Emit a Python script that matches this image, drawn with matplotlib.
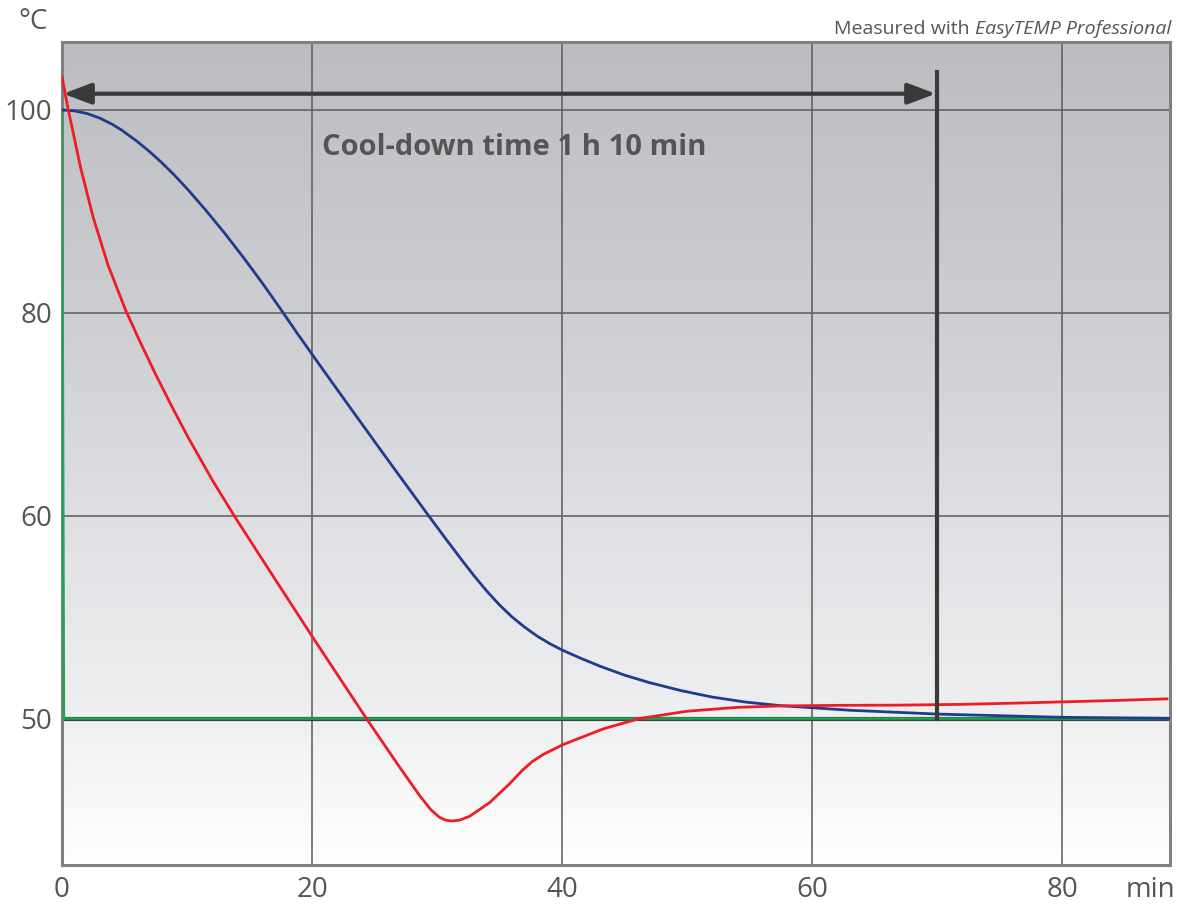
import numpy as np
import matplotlib
matplotlib.use('Agg')
import matplotlib.pyplot as plt
from matplotlib.colors import LinearSegmentedColormap

plt.rcParams['font.family'] = ['Open Sans', 'DejaVu Sans']

# data (minutes, degC)
red_t = [0, 0.5, 1.5, 2.5, 3.7, 5.1, 6.2, 7.44, 8.8, 10.1, 12, 13.8, 17, 20, 24.3, 27,
         28.6, 29.5, 30.2, 30.7, 31.2, 31.8, 32.6, 34.2, 35.8, 36.8, 37.6, 38.5, 40.1,
         43.3, 46.2, 50, 54, 57.4, 62, 67, 72, 76.3, 80, 84.2, 88.4]
red_y = [103.28, 100.03, 94.26, 89.38, 84.65, 80.23, 77.26, 74.06, 70.73, 67.70, 63.56,
         59.97, 56.91, 54.06, 50.05, 47.61, 46.21, 45.51, 45.13, 44.99, 44.95, 44.99,
         45.18, 45.85, 46.78, 47.43, 47.87, 48.23, 48.72, 49.49, 50.0, 50.36, 50.55,
         50.62, 50.65, 50.66, 50.70, 50.76, 50.82, 50.89, 50.97]

blue_t = [0, 1, 2, 3, 4, 4.8, 6, 7, 8, 9, 10.1, 11.5, 13, 14.5, 16, 17.6, 18.8, 20, 21.7,
          23.4, 25, 26.6, 28, 29.4, 30.7, 32, 33, 34, 35, 36, 37, 38, 39, 40, 41.5, 43, 45,
          47, 49.5, 52, 54.7, 57.4, 63, 70, 80, 88.64]
blue_y = [100, 99.91, 99.65, 99.21, 98.60, 97.99, 96.91, 95.90, 94.78, 93.56, 92.11,
          90.12, 87.87, 85.48, 82.98, 80.17, 78.01, 75.92, 72.98, 70.06, 67.32, 64.60,
          62.24, 59.94, 58.86, 57.80, 57.01, 56.27, 55.60, 55.01, 54.51, 54.07, 53.70,
          53.38, 52.97, 52.59, 52.14, 51.77, 51.38, 51.06, 50.81, 50.64, 50.41, 50.22,
          50.06, 50.01]

green_t = [0, 0.15, 88.64]
green_y = [100, 50, 50]

cool_down = 70  # min
xticks = [0, 20, 40, 60, 80]
yticks = [50, 60, 80, 100]


# y axis is stretched 2x below 60 degC
def fwd(y):
    y = np.asarray(y, dtype=float)
    return np.where(y >= 60, y, 60 - (60 - y) * 2)


def inv(t):
    t = np.asarray(t, dtype=float)
    return np.where(t >= 60, t, 60 - (60 - t) / 2)


fig = plt.figure(figsize=(11.77, 9.06), dpi=100)
ax = fig.add_axes([62 / 1177, 41 / 906, 1108 / 1177, 823 / 906])
ax.set_yscale('function', functions=(fwd, inv))
ax.set_xlim(0, 88.64)
ax.set_ylim(42.78, 106.7)

# gray-to-white background
bg = LinearSegmentedColormap.from_list('bg', [(0, '#ffffff'), (0.179, '#eeeff0'),
                                              (0.425, '#dedfe2'), (0.672, '#cdced1'),
                                              (1, '#bcbdc1')])
ax.imshow(np.linspace(0, 1, 256).reshape(-1, 1), cmap=bg, origin='lower', aspect='auto',
          extent=[0, 1, 0, 1], transform=ax.transAxes, zorder=0)

ax.text(36.2, 96.3, 'Cool-down time 1 h 10 min', ha='center', va='center',
        fontsize=21, fontweight='bold', color='#555555', zorder=1)

for x in xticks[1:]:
    ax.axvline(x, color='#5a5a5a', lw=1.1, zorder=2)
for y in yticks[1:]:
    ax.axhline(y, color='#5a5a5a', lw=1.1, zorder=2)
ax.axhline(50, color='#3f3f3f', lw=3, zorder=2)

ax.plot(green_t, green_y, color='#1aa54f', lw=1.8, zorder=3)
ax.plot(blue_t, blue_y, color='#203c8c', lw=2.0, zorder=4, solid_joinstyle='round')
ax.plot(red_t, red_y, color='#ee1c25', lw=2.0, zorder=5, solid_joinstyle='round')

ax.plot([cool_down, cool_down], [50, 103.7], color='#3a3a3a', lw=3, zorder=6)
ax.annotate('', xy=(0.1, 101.6), xytext=(cool_down - 0.1, 101.6),
            arrowprops=dict(arrowstyle='<|-|>,head_length=0.85,head_width=0.32',
                            mutation_scale=20, color='#3a3a3a', lw=3,
                            shrinkA=0, shrinkB=0), zorder=6)

ax.set_xticks(xticks)
ax.set_yticks(yticks)
ax.set_xticklabels([str(v) for v in xticks])
ax.set_yticklabels([str(v) for v in yticks])
ax.tick_params(length=0, labelsize=20, colors='#555555')
ax.tick_params(axis='x', pad=8)
ax.tick_params(axis='y', pad=7)
for s in ax.spines.values():
    s.set_color('#808080')
    s.set_linewidth(2.2)

fig.text(18 / 1177, 1 - 22 / 906, '°C', fontsize=20, color='#555555', va='center', ha='left')
fig.text(1175 / 1177, 1 - 890 / 906, 'min', fontsize=20, color='#555555', va='center', ha='right')

ital = fig.text(1171 / 1177, 1 - 34 / 906, 'EasyTEMP Professional', fontsize=14,
                style='italic', color='#555555', ha='right', va='baseline')
ax.annotate('Measured with ', xy=(0, 0), xycoords=ital, ha='right', va='bottom',
            fontsize=14, color='#555555', annotation_clip=False)

fig.savefig('out.png', dpi=100)
